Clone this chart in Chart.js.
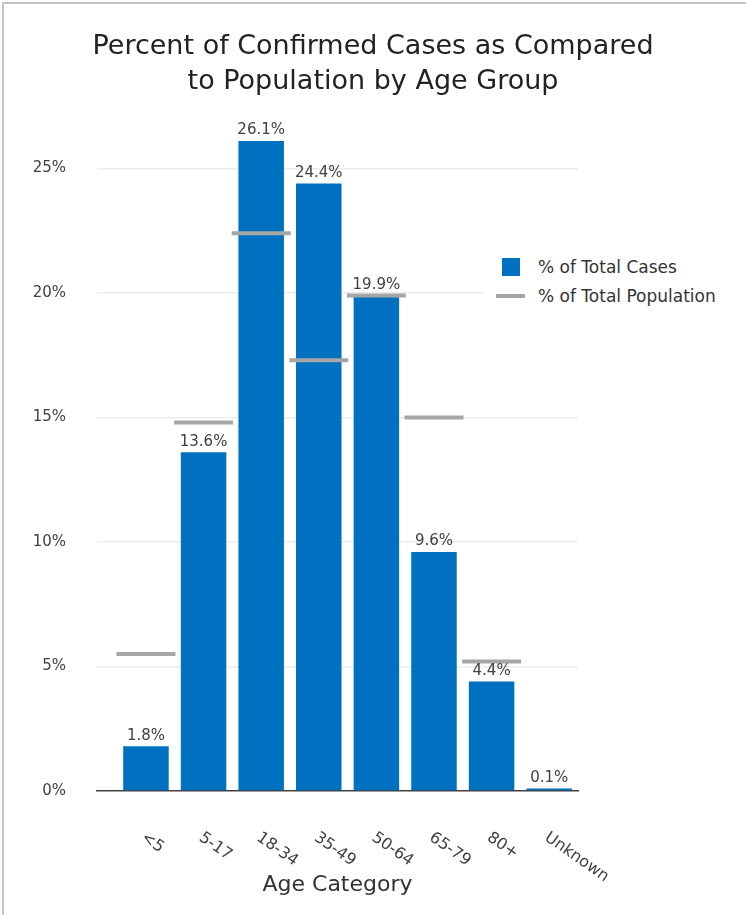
<!DOCTYPE html>
<html>
<head>
<meta charset="utf-8">
<script src="https://cdn.jsdelivr.net/npm/chart.js@4.4.1/dist/chart.umd.min.js"></script>
<style>
    html, body { margin: 0; padding: 0; background: #fff; overflow: hidden; }
    #wrap { position: relative; width: 746px; height: 915px; }
    #frame {
        position: absolute; left: 2px; top: 2px; width: 800px; height: 1000px;
        border-left: 2px solid #c4c4c4; border-top: 2px solid #c4c4c4;
        pointer-events: none;
    }
    #legend {
        position: absolute; left: 484px; top: 250px; width: 260px; height: 62px;
        background: #fff; font-family: 'DejaVu Sans', sans-serif; font-size: 17px; color: #333;
    }
    .lg-item { position: absolute; left: 0; height: 20px; line-height: 20px; }
    .lg-item span.sw { position: absolute; }
    .lg-item span.tx { position: absolute; left: 54px; white-space: nowrap; }
</style>
</head>
<body>
<div id="wrap">
    <canvas id="chart"></canvas>
    <div id="legend"></div>
    <div id="frame"></div>
</div>
<script>
// Percent of confirmed cases vs. share of population, by age group
const CATEGORIES = ['<5', '5-17', '18-34', '35-49', '50-64', '65-79', '80+', 'Unknown'];
const CASES_PCT = [1.8, 13.6, 26.1, 24.4, 19.9, 9.6, 4.4, 0.1];
const POPULATION_PCT = [5.5, 14.8, 22.4, 17.3, 19.9, 15.0, 5.2, null];
const Y_TICKS = [0, 5, 10, 15, 20, 25];

const FONT = "'DejaVu Sans', sans-serif";
const BAR_COLOR = '#0070C0';
const POP_COLOR = '#A6A6A6';
const TEXT_DIM = '#404040';

// value labels over bars + rotated category labels under the axis
const labelPlugin = {
    id: 'labels',
    afterDatasetsDraw(chart) {
        const ctx = chart.ctx;
        const meta = chart.getDatasetMeta(1);
        ctx.save();
        ctx.font = '15px ' + FONT;
        ctx.fillStyle = TEXT_DIM;
        ctx.textAlign = 'center';
        ctx.textBaseline = 'bottom';
        meta.data.forEach((bar, i) => {
            ctx.fillText(CASES_PCT[i].toFixed(1) + '%', bar.x, bar.y - 3);
        });
        ctx.restore();
    },
    afterDraw(chart) {
        const ctx = chart.ctx;
        const x = chart.scales.x;
        const base = chart.scales.y.getPixelForValue(0);
        ctx.save();
        ctx.font = '16px ' + FONT;
        ctx.fillStyle = TEXT_DIM;
        ctx.textAlign = 'left';
        ctx.textBaseline = 'middle';
        CATEGORIES.forEach((c, i) => {
            ctx.save();
            ctx.translate(x.getPixelForValue(i) - 3, base + 45);
            ctx.rotate(35 * Math.PI / 180);
            ctx.fillText(c, 0, 0);
            ctx.restore();
        });
        ctx.restore();
    },
};

const chart = new Chart(document.getElementById('chart'), {
    data: {
        datasets: [
            {
                type: 'line',
                label: '% of Total Population',
                data: POPULATION_PCT.map((v, i) => ({ x: i, y: v })),
                showLine: false,
                pointStyle: 'line',
                pointRadius: 29.5,
                pointHoverRadius: 29.5,
                pointBorderWidth: 4,
                pointHoverBorderWidth: 4,
                pointBorderColor: POP_COLOR,
                pointBackgroundColor: POP_COLOR,
                borderColor: POP_COLOR,
                order: 0,
            },
            {
                type: 'bar',
                label: '% of Total Cases',
                data: CASES_PCT.map((v, i) => ({ x: i, y: v })),
                backgroundColor: BAR_COLOR,
                borderWidth: 0,
                categoryPercentage: 1,
                barPercentage: 0.79,
                order: 1,
            },
        ],
    },
    options: {
        responsive: true,
        maintainAspectRatio: false,
        animation: false,
        events: [],
        layout: { padding: { top: 17.5, left: 0, right: 0, bottom: 0 } },
        plugins: {
            legend: { display: false },
            tooltip: { enabled: false },
            title: {
                display: true,
                text: ['Percent of Confirmed Cases as Compared', 'to Population by Age Group'],
                color: '#222',
                font: { family: FONT, size: 27, weight: 'normal', lineHeight: 1.3 },
                padding: { top: 12, bottom: 6.5 },
            },
        },
        scales: {
            x: {
                type: 'linear',
                min: -0.85,
                max: 7.5,
                offset: false,
                ticks: { display: false },
                grid: { display: false },
                border: { display: true, color: '#404040', width: 1.5 },
                title: {
                    display: true,
                    text: 'Age Category',
                    color: '#333',
                    font: { family: FONT, size: 22, lineHeight: 1.2 },
                    padding: { top: 4, bottom: 17 },
                },
                afterFit(s) { s.height = 124; },
            },
            y: {
                min: 0,
                max: 27.5,
                ticks: {
                    stepSize: 5,
                    includeBounds: false,
                    padding: 31,
                    color: TEXT_DIM,
                    font: { family: FONT, size: 15 },
                    callback: (v) => (Y_TICKS.includes(v) ? v + '%' : null),
                },
                grid: {
                    drawTicks: false,
                    color: (c) => (c.tick && c.tick.value === 0 ? 'rgba(0,0,0,0)' : '#ececec'),
                    lineWidth: 1.5,
                },
                border: { display: false },
                afterFit(s) { s.width = 97; },
            },
            // empty right-hand axis: only reserves the blank strip where the legend sits
            yRight: {
                position: 'right',
                ticks: { display: false },
                grid: { display: false },
                border: { display: false },
                afterFit(s) { s.width = 168; },
            },
        },
    },
    plugins: [labelPlugin],
});

// legend drawn as HTML so it can sit over the empty right part of the plot
const legend = document.getElementById('legend');
[
    { label: chart.data.datasets[1].label, top: 7, sw: 'left:18px;top:1px;width:18px;height:18px;background:' + BAR_COLOR },
    { label: chart.data.datasets[0].label, top: 36, sw: 'left:12px;top:8px;width:29px;height:4px;background:' + POP_COLOR },
].forEach((it) => {
    const row = document.createElement('div');
    row.className = 'lg-item';
    row.style.top = it.top + 'px';
    row.innerHTML = '<span class="sw" style="' + it.sw + '"></span><span class="tx"></span>';
    row.querySelector('.tx').textContent = it.label;
    legend.appendChild(row);
});
</script>
</body>
</html>
